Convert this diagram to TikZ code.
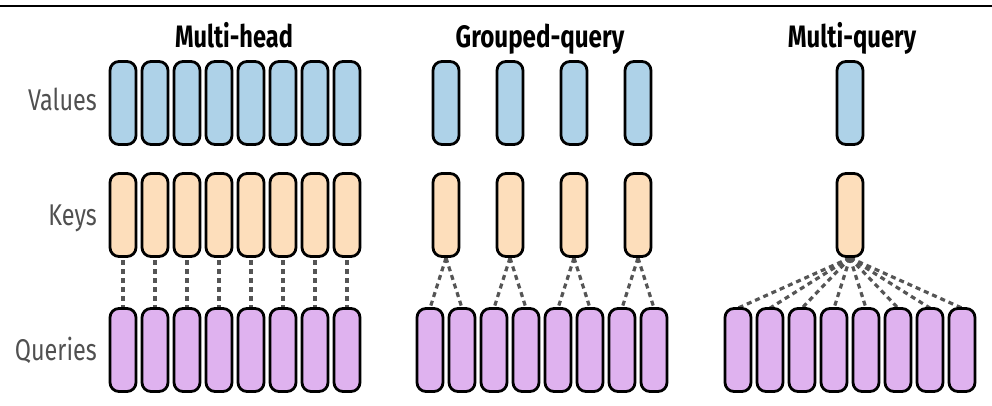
\documentclass[tikz,border=0pt]{standalone}
\usepackage{fontspec}
\setmainfont{Fira Sans}
\usetikzlibrary{backgrounds}
\definecolor{valfill}{RGB}{174,210,232}
\definecolor{keyfill}{RGB}{253,222,187}
\definecolor{qryfill}{RGB}{223,178,239}
\definecolor{dashgray}{RGB}{85,85,85}
\definecolor{labgray}{RGB}{80,80,80}
\tikzset{
  head/.style={draw=black, line width=2.8pt, rounded corners=9pt, rectangle,
    minimum width=26pt, minimum height=83pt, inner sep=0pt},
  valbox/.style={head, fill=valfill},
  keybox/.style={head, fill=keyfill},
  qrybox/.style={head, fill=qryfill},
  link/.style={draw=dashgray, line width=3.2pt, dash pattern=on 5pt off 4pt},
  rowlabel/.style={anchor=base east, inner sep=0pt, text=labgray, font=\fontsize{30}{36}\selectfont},
  title/.style={anchor=base, inner sep=0pt, text=black, font=\fontsize{31}{36}\selectfont\bfseries}
}
\begin{document}
\begin{tikzpicture}[x=1pt,y=-1pt]
\useasboundingbox (0,0) rectangle (992,405);
\draw[line width=2pt] (0,6) -- (992,6);
% titles
\node[title] (t1) at (234,47) {\scalebox{0.76}[1]{Multi-head}};
\node[title] (t2) at (540,47) {\scalebox{0.78}[1]{Grouped-query}};
\node[title] (t3) at (852,47) {\scalebox{0.77}[1]{Multi-query}};
% row labels
\node[rowlabel] (lv) at (97,110) {\scalebox{0.78}[1]{Values}};
\node[rowlabel] (lk) at (97,225) {\scalebox{0.78}[1]{Keys}};
\node[rowlabel] (lq) at (97,360) {\scalebox{0.78}[1]{Queries}};
% multi-head
\foreach \i in {0,...,7} {
  \node[valbox] (mv\i) at (123+32*\i,103) {};
  \node[keybox] (mk\i) at (123+32*\i,215) {};
  \node[qrybox] (mq\i) at (123+32*\i,350) {};
}
% grouped-query
\foreach \j in {0,...,3} {
  \node[valbox] (gv\j) at (446+64*\j,103) {};
  \node[keybox] (gk\j) at (446+64*\j,215) {};
}
\foreach \i in {0,...,7} {
  \node[qrybox] (gq\i) at (430+32*\i,350) {};
}
% multi-query
\node[valbox] (qv) at (850,103) {};
\node[keybox] (qk) at (850,215) {};
\foreach \i in {0,...,7} {
  \node[qrybox] (qq\i) at (738+32*\i,350) {};
}
% links
\begin{pgfonlayer}{background}
\foreach \i in {0,...,7} {
  \draw[link] (mk\i.center) -- (mq\i.center);
}
\foreach \j [evaluate=\j as \a using int(2*\j), evaluate=\j as \b using int(2*\j+1)] in {0,...,3} {
  \draw[link] (gk\j.south) -- ([yshift=-1pt]gq\a.north);
  \draw[link] (gk\j.south) -- ([yshift=-1pt]gq\b.north);
}
\foreach \i in {0,...,7} {
  \draw[link] (qk.south) -- ([yshift=-1pt]qq\i.north);
}
\end{pgfonlayer}
\end{tikzpicture}
\end{document}
